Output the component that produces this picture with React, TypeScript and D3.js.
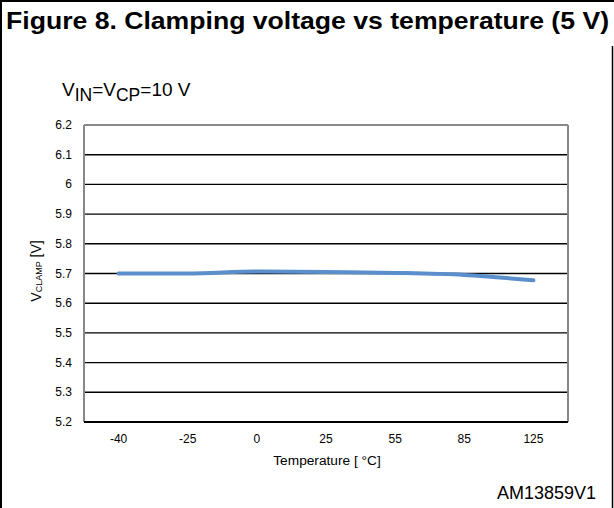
import React from "react";
import * as d3 from "d3";

const categories = ["-40", "-25", "0", "25", "55", "85", "125"];
const vclamp = [5.7, 5.7, 5.707, 5.705, 5.702, 5.695, 5.677];
const yTicks = [5.2, 5.3, 5.4, 5.5, 5.6, 5.7, 5.8, 5.9, 6, 6.1, 6.2];

const W = 614;
const H = 508;
const M = { left: 84, right: 568, top: 125, bottom: 422 };

export default function App() {
  const x = d3.scaleBand<string>().domain(categories).range([M.left, M.right]);
  const y = d3.scaleLinear().domain([5.2, 6.2]).range([M.bottom, M.top]);
  const line = d3
    .line<number>()
    .x((_, i) => (x(categories[i]) as number) + x.bandwidth() / 2)
    .y((d) => y(d))
    .curve(d3.curveMonotoneX);
  const font = "Arial, 'Liberation Sans', sans-serif";
  return (
    <svg
      width={W}
      height={H}
      style={{ position: "absolute", left: 0, top: 0, background: "#fff" }}
      fontFamily={font}
    >
      <rect x={0} y={0} width={W} height={H} fill="#fff" />
      {/* frame */}
      <line x1={0} x2={W} y1={1} y2={1} stroke="#000" strokeWidth={2} />
      <line x1={1} x2={1} y1={0} y2={H} stroke="#000" strokeWidth={2} />
      <line x1={612.5} x2={612.5} y1={46} y2={H} stroke="#000" strokeWidth={1.5} />
      <text
        x={6}
        y={29}
        fontSize={24}
        fontWeight="bold"
        fill="#000"
        textLength={603}
        lengthAdjust="spacingAndGlyphs"
      >
        Figure 8. Clamping voltage vs temperature (5 V)
      </text>
      <text x={62} y={96} fontSize={19} fill="#000">
        V<tspan fontSize={17.5} dy={5}>IN</tspan>
        <tspan dy={-5}>=V</tspan>
        <tspan fontSize={17.5} dy={5}>CP</tspan>
        <tspan dy={-5}>=10 V</tspan>
      </text>
      {/* gridlines */}
      {yTicks.map((t) => (
        <line
          key={t}
          x1={M.left}
          x2={M.right}
          y1={y(t)}
          y2={y(t)}
          stroke="#000"
          strokeWidth={t === 5.2 ? 2 : 1.4}
        />
      ))}
      {/* plot frame */}
      <line x1={M.left} x2={M.left} y1={M.top} y2={M.bottom} stroke="#888" strokeWidth={2} />
      <line x1={M.right} x2={M.right} y1={M.top} y2={M.bottom} stroke="#888" strokeWidth={2} />
      <line x1={M.left} x2={M.right} y1={M.top} y2={M.top} stroke="#888" strokeWidth={2} />
      <line x1={M.left} x2={M.right} y1={M.bottom} y2={M.bottom} stroke="#000" strokeWidth={2} />
      {/* y tick labels */}
      {yTicks.map((t) => (
        <text key={t} x={72} y={y(t) + 4} fontSize={12} textAnchor="end" fill="#000">
          {String(t)}
        </text>
      ))}
      {/* x tick labels */}
      {categories.map((c) => (
        <text
          key={c}
          x={(x(c) as number) + x.bandwidth() / 2}
          y={443}
          fontSize={12}
          textAnchor="middle"
          fill="#000"
        >
          {c}
        </text>
      ))}
      <text x={(M.left + M.right) / 2 + 1} y={465} fontSize={13.7} textAnchor="middle" fill="#000">
        Temperature [ °C]
      </text>
      <text
        transform={`translate(41, ${271}) rotate(-90)`}
        fontSize={14}
        textAnchor="middle"
        fill="#000"
      >
        V<tspan fontSize={9} dy={1}>CLAMP</tspan>
        <tspan dy={-1}> [V]</tspan>
      </text>
      <path d={line(vclamp) || ""} fill="none" stroke="#5b8fcc" strokeWidth={4} strokeLinecap="round" />
      <text x={596} y={499} fontSize={18} textAnchor="end" fill="#000">
        AM13859V1
      </text>
    </svg>
  );
}
